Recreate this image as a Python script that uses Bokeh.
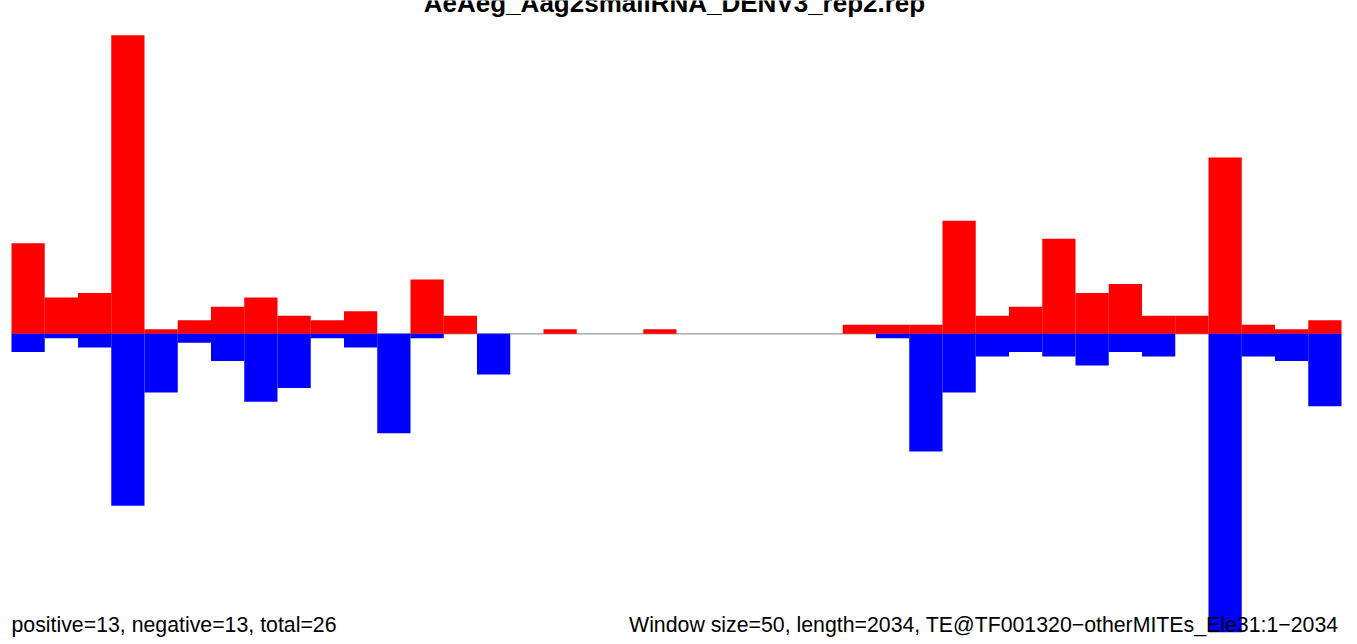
from bokeh.plotting import figure
from bokeh.models import Range1d, Label, ColumnDataSource
from bokeh.embed import file_html
from bokeh.resources import INLINE

# ---- data ----
bins = list(range(40))
positive = [20, 8, 9, 66, 1, 3, 6, 8, 4, 3, 5, 0, 12, 4, 0,
            0, 1, 0, 0, 1, 0, 0, 0, 0, 0,
            2, 2, 2, 25, 4, 6, 21, 9, 11, 4, 4, 39, 2, 1, 3]
negative = [4, 1, 3, 38, 13, 2, 6, 15, 12, 1, 3, 22, 1, 0, 9,
            0, 0, 0, 0, 0, 0, 0, 0, 0, 0,
            0, 1, 26, 13, 5, 4, 5, 7, 4, 5, 0, 66, 5, 6, 16]
title_text = "AeAeg_Aag2smallRNA_DENV3_rep2.rep"
left_note = "positive=13, negative=13, total=26"
right_note = "Window size=50, length=2034, TE@TF001320\u2212otherMITEs_Ele31:1\u22122034"

W, H = 1357, 644
src = ColumnDataSource(dict(
    left=bins,
    right=[b + 1 for b in bins],
    pos=positive,
    neg=[-v for v in negative],
))

p = figure(width=W, height=H, output_backend="svg", toolbar_location=None,
           x_range=Range1d(-11 / 33.25, 1346 / 33.25),
           y_range=Range1d(-68.69, 73.69),
           min_border=0, min_border_left=0, min_border_right=0,
           min_border_top=0, min_border_bottom=0)
p.axis.visible = False
p.grid.visible = False
p.outline_line_color = None
p.background_fill_color = "white"
p.border_fill_color = "white"

p.segment(x0=0, y0=0, x1=len(bins), y1=0, line_color="#A9A9A9", line_width=1.5)
p.quad(left="left", right="right", bottom=0, top="pos", source=src,
       fill_color="#FF0000", line_color=None)
p.quad(left="left", right="right", bottom="neg", top=0, source=src,
       fill_color="#0000FF", line_color=None)

p.add_layout(Label(x=674, y=H - 2.5, x_units="screen", y_units="screen",
                   text=title_text, text_align="center", text_baseline="alphabetic",
                   text_font="Liberation Sans", text_font_style="bold",
                   text_font_size="26px", text_color="black"))
p.add_layout(Label(x=11, y=H - 624, x_units="screen", y_units="screen",
                   text=left_note, text_align="left", text_baseline="alphabetic",
                   text_font="Liberation Sans", text_font_size="21.3px",
                   text_color="black"))
p.add_layout(Label(x=1338, y=H - 624, x_units="screen", y_units="screen",
                   text=right_note, text_align="right", text_baseline="alphabetic",
                   text_font="Liberation Sans", text_font_size="21.3px",
                   text_color="black"))

open("out.html", "w").write(file_html(p, INLINE))
